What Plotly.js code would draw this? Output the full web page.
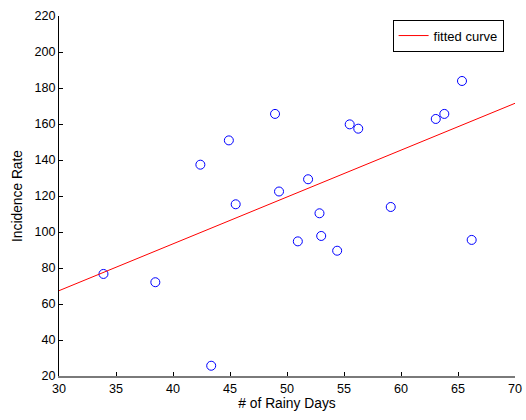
<!DOCTYPE html>
<html>
<head>
<meta charset="utf-8">
<script src="https://cdn.plot.ly/plotly-3.0.1.min.js"></script>
<style>
  html, body { margin: 0; padding: 0; background: #fff; }
  #chart { width: 526px; height: 420px; }
</style>
</head>
<body>
<div id="chart"></div>
<script>
// Observed rainy days per season vs. incidence rate
const rainyDays = [33.9, 38.45, 43.35, 42.4, 44.9, 45.5, 48.95, 49.3, 51.85, 50.95,
                   52.85, 53.0, 54.4, 55.5, 56.25, 59.1, 63.05, 63.8, 65.35, 66.2];
const incidence = [76.7, 72.1, 25.7, 137.4, 150.9, 115.4, 165.6, 122.5, 129.3, 94.8,
                   110.4, 97.8, 89.6, 159.8, 157.4, 113.9, 162.8, 165.6, 183.9, 95.6];

// Linear fit, evaluated at the ends of the x range
const fitX = [30, 70];
const fitY = [67.4, 171.5];

const fitLabel = 'fitted curve';
const xTitle = '# of Rainy Days';
const yTitle = 'Incidence Rate';

const font = 'Liberation Sans, Arial, sans-serif';
const tickFont = { family: font, size: 12.6, color: '#000' };
const titleFont = { family: font, size: 13.8, color: '#000' };

const traces = [
  {
    x: rainyDays, y: incidence,
    type: 'scatter', mode: 'markers',
    marker: { symbol: 'circle-open', size: 9, color: '#0000ff', line: { width: 1, color: '#0000ff' } },
    showlegend: false,
    hoverinfo: 'skip'
  },
  {
    x: fitX, y: fitY,
    type: 'scatter', mode: 'lines',
    name: fitLabel,
    line: { color: '#ff0000', width: 1 }
  }
];

const axisCommon = {
  showgrid: false, zeroline: false,
  showline: true, linecolor: '#000', linewidth: 1,
  ticks: 'inside', ticklen: 4, tickcolor: '#000', tickwidth: 1,
  tickfont: tickFont,
  mirror: false
};

const layout = {
  width: 526, height: 420,
  margin: { l: 58.5, r: 10.5, t: 16, b: 44 },
  paper_bgcolor: '#fff', plot_bgcolor: '#fff',
  font: { family: font, size: 13, color: '#000' },
  xaxis: Object.assign({}, axisCommon, {
    range: [30, 70], dtick: 5, tick0: 30,
    linecolor: '#7a7a7a', linewidth: 2,
    title: { text: xTitle, font: titleFont, standoff: 1 }
  }),
  yaxis: Object.assign({}, axisCommon, {
    range: [20, 220], dtick: 20, tick0: 20,
    title: { text: yTitle, font: titleFont, standoff: 8 }
  }),
  showlegend: true,
  legend: {
    x: 0.975, xanchor: 'right', y: 0.99, yanchor: 'top',
    bgcolor: '#fff', bordercolor: '#000', borderwidth: 1,
    font: { family: font, size: 13, color: '#000' },
    itemwidth: 30, tracegroupgap: 0
  }
};

Plotly.newPlot('chart', traces, layout, { displayModeBar: false, staticPlot: true });
</script>
</body>
</html>
